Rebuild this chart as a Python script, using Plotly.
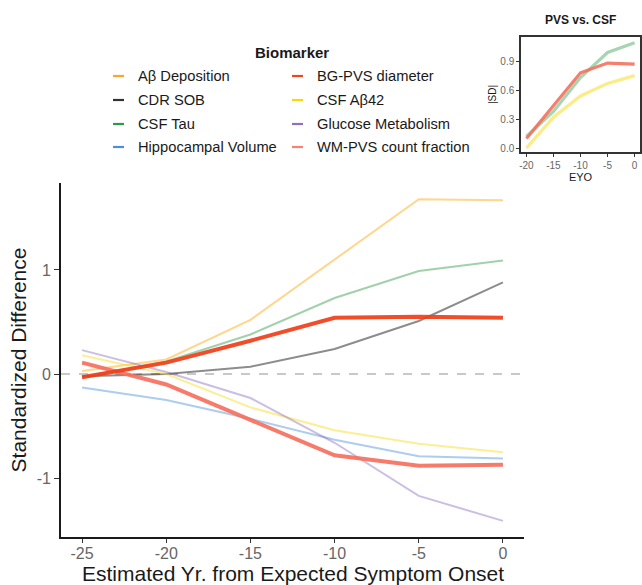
import plotly.graph_objects as go

# Estimated years from expected symptom onset
eyo = [-25, -20, -15, -10, -5, 0]

# Standardized differences per biomarker
ab_deposition = [0.03, 0.14, 0.52, 1.10, 1.68, 1.67]
cdr_sob = [-0.02, 0.00, 0.07, 0.24, 0.51, 0.88]
csf_tau = [-0.03, 0.12, 0.38, 0.73, 0.99, 1.09]
hippocampal_volume = [-0.13, -0.25, -0.43, -0.63, -0.79, -0.81]
bg_pvs_diameter = [-0.03, 0.11, 0.32, 0.54, 0.55, 0.54]
csf_ab42 = [0.18, 0.00, -0.32, -0.54, -0.67, -0.75]
glucose_metabolism = [0.23, 0.02, -0.23, -0.66, -1.17, -1.41]
wm_pvs_count_fraction = [0.11, -0.10, -0.44, -0.78, -0.88, -0.87]

x_ticks = [-25, -20, -15, -10, -5, 0]
y_ticks = [-1, 0, 1]
inset_x_ticks = [-20, -15, -10, -5, 0]
inset_y_ticks = [0.0, 0.3, 0.6, 0.9]

# name, values, legend colour, line colour, width
series = [
    ("A\u03b2 Deposition", ab_deposition, "#F9A62E", "rgba(255,165,0,0.45)", 2),
    ("CDR SOB", cdr_sob, "#333333", "rgba(0,0,0,0.45)", 2),
    ("CSF Tau", csf_tau, "#2E9A45", "rgba(46,154,69,0.45)", 2),
    ("Hippocampal Volume", hippocampal_volume, "#4A8FD9", "rgba(74,143,217,0.45)", 2),
    ("BG-PVS diameter", bg_pvs_diameter, "#F0461E", "rgba(240,62,24,0.92)", 4),
    ("CSF A\u03b242", csf_ab42, "#F8D90F", "rgba(248,217,15,0.45)", 2),
    ("Glucose Metabolism", glucose_metabolism, "#8E6FC0", "rgba(142,111,192,0.45)", 2),
    ("WM-PVS count fraction", wm_pvs_count_fraction, "#FA8072", "rgba(245,112,94,0.92)", 4),
]

# Draw order: thin lines first, thick PVS lines on top
draw_order = [0, 2, 1, 3, 5, 6, 7, 4]

W, H = 642, 585
ML, MR, MT, MB = 61, 2, 37, 48
PW, PH = W - ML - MR, H - MT - MB


def px(x):
    return (x - ML) / PW


def py(y):
    return (H - MB - y) / PH


fig = go.Figure()

for i in draw_order:
    name, vals, _, lc, lw = series[i]
    fig.add_trace(go.Scatter(x=eyo, y=vals, mode="lines", name=name,
                             line=dict(color=lc, width=lw), showlegend=False,
                             xaxis="x", yaxis="y"))

# Inset: magnitude of PVS and CSF markers from EYO -20 onwards
inset = [
    (csf_tau, "rgba(46,154,69,0.42)"),
    (csf_ab42, "rgba(248,217,15,0.5)"),
    (wm_pvs_count_fraction, "rgba(245,112,94,0.9)"),
]
for vals, col in inset:
    fig.add_trace(go.Scatter(x=eyo[1:], y=[abs(v) for v in vals[1:]], mode="lines",
                             line=dict(color=col, width=3.2), showlegend=False,
                             xaxis="x2", yaxis="y2"))

FONT = "Liberation Sans, Arial, sans-serif"
tick_font = dict(family=FONT, size=16, color="#666666")
small_tick_font = dict(family=FONT, size=10, color="#666666")

fig.update_layout(
    width=W, height=H,
    margin=dict(l=ML, r=MR, t=MT, b=MB),
    paper_bgcolor="white", plot_bgcolor="rgba(0,0,0,0)",
    font=dict(family=FONT, color="#1a1a1a"),
    xaxis=dict(domain=[0, px(524)], range=[-26.25, 1.25], tickvals=x_ticks,
               ticktext=[str(v) for v in x_ticks], tickfont=tick_font,
               showline=True, linecolor="#1a1a1a", linewidth=1.6,
               ticks="outside", ticklen=4, tickcolor="#333333", tickwidth=1.3,
               ticklabelstandoff=-3,
               showgrid=False, zeroline=False, anchor="y", automargin=False),
    yaxis=dict(domain=[0, 1 - (183 - MT) / PH], range=[-1.565, 1.835], tickvals=y_ticks,
               ticktext=[str(v) for v in y_ticks], tickfont=tick_font,
               showline=True, linecolor="#1a1a1a", linewidth=1.6,
               ticks="outside", ticklen=5, tickcolor="#333333", tickwidth=1.3,
               showgrid=False, zeroline=False, anchor="x",
               title=dict(text="Standardized Difference",
                          font=dict(size=21, color="#1a1a1a"), standoff=4),
               automargin=False),
    xaxis2=dict(domain=[px(521), 1.0], range=[-21, 1], tickvals=inset_x_ticks,
                ticktext=[str(v) for v in inset_x_ticks], tickfont=small_tick_font,
                showline=True, mirror=True, linecolor="#333333", linewidth=1.5,
                ticks="outside", ticklen=3, tickcolor="#333333",
                showgrid=False, zeroline=False, anchor="y2",
                title=dict(text="EYO", font=dict(size=11, color="#1a1a1a"), standoff=2),
                automargin=False),
    yaxis2=dict(domain=[py(152), 1.0], range=[-0.04, 1.15], tickvals=inset_y_ticks,
                ticktext=["%.1f" % v for v in inset_y_ticks], tickfont=small_tick_font,
                showline=True, mirror=True, linecolor="#333333", linewidth=1.5,
                ticks="outside", ticklen=3, tickcolor="#333333",
                showgrid=False, zeroline=False, anchor="x2",
                title=dict(text="|SD|", font=dict(size=10, color="#1a1a1a"), standoff=2),
                automargin=False),
)

# x-axis title
fig.add_annotation(text="Estimated Yr. from Expected Symptom Onset",
                   xref="x domain", yref="paper", x=0.5, y=py(573),
                   xanchor="center", yanchor="middle", showarrow=False,
                   borderpad=0, font=dict(size=21, color="#1a1a1a"))

# Dashed reference line at zero
fig.add_shape(type="line", xref="x domain", yref="y", x0=0, x1=1, y0=0, y1=0,
              line=dict(color="#C8C8C8", width=2, dash="dash"), layer="below")

# Inset title
fig.add_annotation(text="<b>PVS vs. CSF</b>", xref="paper", yref="paper",
                   x=px(580), y=py(20), xanchor="center", yanchor="middle",
                   showarrow=False, font=dict(size=12, color="#1a1a1a"))

# Legend, two columns
fig.add_annotation(text="<b>Biomarker</b>", xref="paper", yref="paper",
                   x=px(292), y=py(52), xanchor="center", yanchor="middle",
                   showarrow=False, font=dict(size=15, color="#1a1a1a"))
row_y = [76, 100, 124, 147]
col_key_x = [113, 292]
col_text_x = [136, 315]
for k, (name, _, kc, _, _) in enumerate(series):
    col, row = divmod(k, 4)
    yk = row_y[row]
    fig.add_shape(type="line", xref="paper", yref="paper",
                  x0=px(col_key_x[col]), x1=px(col_key_x[col] + 11),
                  y0=py(yk), y1=py(yk), line=dict(color=kc, width=2.2))
    fig.add_annotation(text=name, xref="paper", yref="paper",
                       x=px(col_text_x[col]), y=py(yk), xanchor="left",
                       yanchor="middle", showarrow=False,
                       font=dict(size=14.7, color="#1a1a1a"))

fig.write_html("out.html")
